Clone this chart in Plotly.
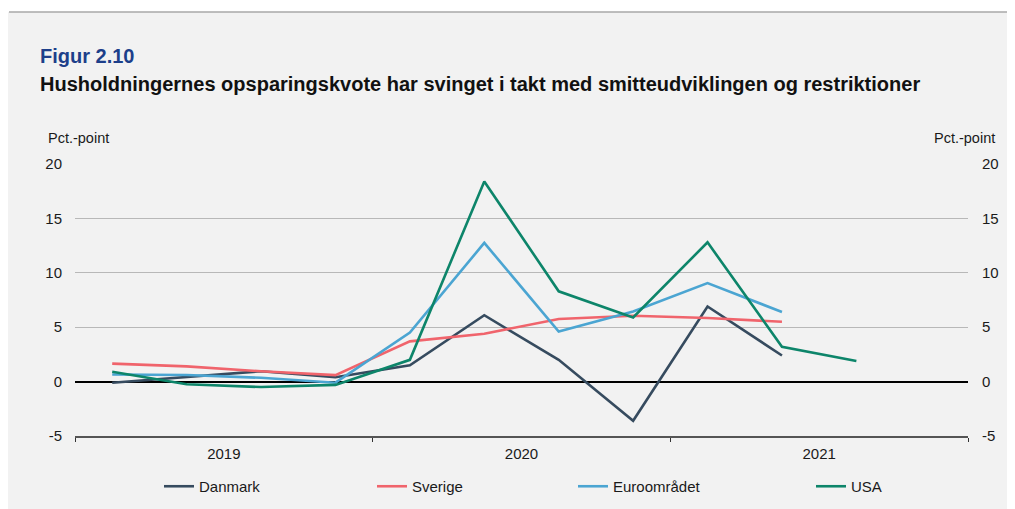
"""Figur 2.10 - husholdningernes opsparingskvote."""

import plotly.graph_objects as go

quarters = [
    "2019K1", "2019K2", "2019K3", "2019K4",
    "2020K1", "2020K2", "2020K3", "2020K4",
    "2021K1", "2021K2", "2021K3", "2021K4",
]
years = ["2019", "2020", "2021"]
y_ticks = [-5, 0, 5, 10, 15, 20]

danmark = [-0.1, 0.45, 0.95, 0.4, 1.5, 6.1, 2.0, -3.6, 6.9, 2.4]
sverige = [1.65, 1.4, 0.95, 0.6, 3.7, 4.4, 5.75, 6.05, 5.85, 5.5]
euro = [0.65, 0.6, 0.35, -0.1, 4.5, 12.75, 4.6, 6.45, 9.05, 6.4]
usa = [0.9, -0.25, -0.5, -0.3, 2.0, 18.4, 8.3, 5.9, 12.8, 3.2, 1.9]

series = [
    ("Danmark", danmark, "#364b5f"),
    ("Sverige", sverige, "#f0646c"),
    ("Euroområdet", euro, "#4ba5d2"),
    ("USA", usa, "#0d856a"),
]

x_pos = list(range(len(quarters)))
year_pos = [x_pos[4 * i] + 1.5 for i in range(len(years))]
year_bounds = [x_pos[4 * i] - 0.5 for i in range(len(years))] + [x_pos[-1] + 0.5]
y_text = [str(v) for v in y_ticks]  # plain hyphen, not unicode minus

FONT = "Liberation Sans, Arial, sans-serif"
BG = "#f2f2f2"

# figure is drawn inside the page's default 8px body margin
W, H = 1007, 501
L, R, T, B = 67, 47, 156, 73
PW, PH = W - L - R, H - T - B


def px_x(x):
    return (x - L) / PW


def px_y(y):
    return 1 + (T - y) / PH


legend_x = [151, 364, 565, 803]
legend_names = ["legend", "legend2", "legend3", "legend4"]

fig = go.Figure()
for (name, vals, color), lg in zip(series, legend_names):
    fig.add_trace(go.Scatter(
        x=x_pos[:len(vals)], y=vals, name=name, mode="lines",
        line=dict(color=color, width=2.6), legend=lg,
    ))
# invisible trace for the right axis
fig.add_trace(go.Scatter(x=[x_pos[0]], y=[0], yaxis="y2", showlegend=False,
                         mode="markers", marker=dict(opacity=0), hoverinfo="skip"))

legends = {}
for lg, lx in zip(legend_names, legend_x):
    legends[lg] = dict(
        orientation="h", x=px_x(lx), xanchor="left", y=px_y(462), yanchor="top",
        font=dict(size=15), bgcolor="rgba(0,0,0,0)",
    )

fig.update_layout(
    width=W, height=H,
    margin=dict(l=L, r=R, t=T, b=B, autoexpand=False),
    paper_bgcolor=BG, plot_bgcolor=BG,
    font=dict(family=FONT, size=15, color="#1a1a1a"),
    showlegend=True,
    **legends,
    xaxis=dict(
        range=[-0.5, 11.5], tickvals=year_pos, ticktext=years,
        ticks="", showgrid=False, zeroline=False, ticklabelstandoff=3,
        showline=True, linecolor="#555555", linewidth=1.5,
        minor=dict(tickvals=year_bounds, ticks="outside", ticklen=4,
                   tickcolor="#333333", tickwidth=1, showgrid=False),
        fixedrange=True,
    ),
    yaxis=dict(
        range=[-5, 20], tickvals=y_ticks, ticktext=y_text,
        showgrid=True, gridcolor="#b8b8b8", gridwidth=1,
        zeroline=True, zerolinecolor="#000000", zerolinewidth=1.5,
        ticks="", ticklabelstandoff=12, showline=False,
    ),
    yaxis2=dict(
        range=[-5, 20], tickvals=y_ticks, ticktext=y_text,
        overlaying="y", side="right",
        showgrid=False, zeroline=False, ticks="", ticklabelstandoff=13,
    ),
    shapes=[
        dict(type="rect", xref="paper", yref="paper", x0=px_x(-20), x1=px_x(W + 20),
             y0=px_y(4), y1=px_y(-20), fillcolor="white",
             line=dict(width=0), layer="below"),
        dict(type="line", xref="paper", yref="paper", x0=px_x(1), x1=px_x(W + 20),
             y0=px_y(4), y1=px_y(4),
             line=dict(color="#a8a8a8", width=1.5)),
    ],
    annotations=[
        dict(text="<b>Figur 2.10</b>", xref="paper", yref="paper",
             x=px_x(30), y=px_y(48), xanchor="left", yanchor="middle",
             showarrow=False, font=dict(size=20, color="#1d3f8a")),
        dict(text="<b>Husholdningernes opsparingskvote har svinget i takt med "
                  "smitteudviklingen og restriktioner</b>",
             xref="paper", yref="paper", x=px_x(30), y=px_y(76),
             xanchor="left", yanchor="middle", showarrow=False,
             font=dict(size=20, color="#111111")),
        dict(text="Pct.-point", xref="paper", yref="paper",
             x=px_x(38), y=px_y(130), xanchor="left", yanchor="middle",
             showarrow=False, font=dict(size=14.5)),
        dict(text="Pct.-point", xref="paper", yref="paper",
             x=px_x(989), y=px_y(130), xanchor="right", yanchor="middle",
             showarrow=False, font=dict(size=14.5)),
    ],
)

fig.write_html("out.html")
